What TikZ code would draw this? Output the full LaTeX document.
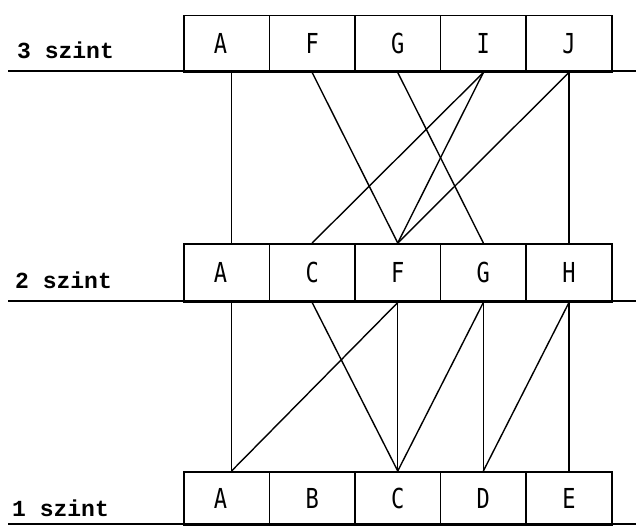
\documentclass[tikz,border=0pt]{standalone}
\usepackage{fontspec}
\newfontfamily\labfont{Liberation Mono}
\newfontfamily\boxfont{DejaVu Sans Mono}
\newcommand\bt[1]{\scalebox{1}[1.25]{#1}}
\newcommand\btl[1]{\hspace*{-12pt}\scalebox{1}[1.25]{#1}}
\begin{document}
\begin{tikzpicture}[x=1pt,y=-1pt,
  cell/.style={draw, line width=1.5pt, minimum width=85.6pt, inner sep=0pt,
    anchor=north west, font=\boxfont\fontsize{22}{22}\selectfont},
  base/.style={line width=2.2pt},
  link/.style={line width=1.4pt},
  lab/.style={font=\labfont\bfseries\fontsize{23}{23}\selectfont, anchor=base west, inner sep=0pt}]
\useasboundingbox (0,0) rectangle (636,527);
% level 3
\node[cell, minimum height=56pt] (tA) at (183,15) {\btl{A}};
\node[cell, minimum height=56pt] (tF) at (268.6,15) {\bt{F}};
\node[cell, minimum height=56pt] (tG) at (354.2,15) {\bt{G}};
\node[cell, minimum height=56pt] (tI) at (439.8,15) {\bt{I}};
\node[cell, minimum height=56pt] (tJ) at (525.4,15) {\bt{J}};
% level 2
\node[cell, minimum height=58pt] (mA) at (183,243) {\btl{A}};
\node[cell, minimum height=58pt] (mC) at (268.6,243) {\bt{C}};
\node[cell, minimum height=58pt] (mF) at (354.2,243) {\bt{F}};
\node[cell, minimum height=58pt] (mG) at (439.8,243) {\bt{G}};
\node[cell, minimum height=58pt] (mH) at (525.4,243) {\bt{H}};
% level 1
\node[cell, minimum height=53pt] (bA) at (183,471) {\btl{A}};
\node[cell, minimum height=53pt] (bB) at (268.6,471) {\bt{B}};
\node[cell, minimum height=53pt] (bC) at (354.2,471) {\bt{C}};
\node[cell, minimum height=53pt] (bD) at (439.8,471) {\bt{D}};
\node[cell, minimum height=53pt] (bE) at (525.4,471) {\bt{E}};
% base lines
\coordinate (l3a) at (8,71);  \coordinate (l3b) at (636,71);
\coordinate (l2a) at (8,301); \coordinate (l2b) at (636,301);
\coordinate (l1a) at (8,524); \coordinate (l1b) at (636,524);
\draw[base] (l3a) -- (l3b);
\draw[base] (l2a) -- (l2b);
\draw[base] (l1a) -- (l1b);
% labels
\node[lab] (s3) at (17,59) {3 szint};
\node[lab] (s2) at (15,288) {2 szint};
\node[lab] (s1) at (12,516) {1 szint};
% links 3 -> 2
\draw[link] ([xshift=5pt]tA.south) -- ([xshift=5pt]mA.north);
\draw[link] (tF.south) -- (mF.north);
\draw[link] (tG.south) -- (mG.north);
\draw[link] (tI.south) -- (mC.north);
\draw[link] (tI.south) -- (mF.north);
\draw[link] (tJ.south) -- (mF.north);
\draw[link] (tJ.south) -- (mH.north);
% links 2 -> 1
\draw[link] ([xshift=5pt]mA.south) -- ([xshift=5pt]bA.north);
\draw[link] (mC.south) -- (bC.north);
\draw[link] (mF.south) -- ([xshift=5pt]bA.north);
\draw[link] (mF.south) -- (bC.north);
\draw[link] (mG.south) -- (bC.north);
\draw[link] (mG.south) -- (bD.north);
\draw[link] (mH.south) -- (bD.north);
\draw[link] (mH.south) -- (bE.north);
\end{tikzpicture}
\end{document}
